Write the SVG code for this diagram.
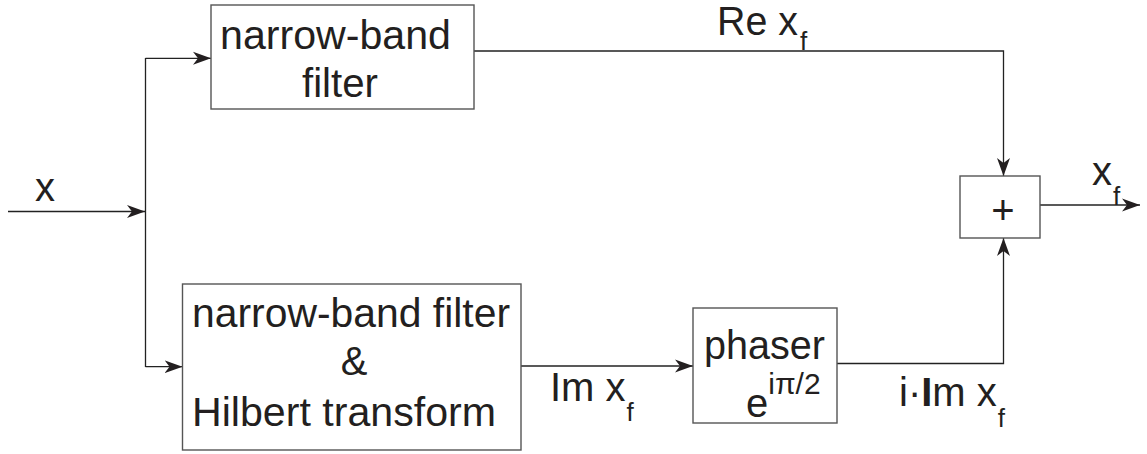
<svg xmlns="http://www.w3.org/2000/svg" width="1147" height="454" viewBox="0 0 1147 454">
<style>
.box{fill:#fff;stroke:#555;stroke-width:1.4}
.ln{fill:none;stroke:#222;stroke-width:1.3}
text{font-family:"Liberation Sans",Arial,sans-serif;fill:#231f20;font-size:40px}
.sub{font-size:26px}
.sup{font-size:30px}
</style>
<defs>
<marker id="ah" markerUnits="userSpaceOnUse" markerWidth="20" markerHeight="14" refX="18" refY="7" orient="auto">
<path d="M0,0.5 L18,7 L0,13.5 L5,7 Z" fill="#231f20"/>
</marker>
</defs>
<g id="connectors">
<path class="ln" d="M8,211.5 H145" marker-end="url(#ah)"/>
<path class="ln" d="M145.5,367 V58"/>
<path class="ln" d="M145.5,58.3 H211" marker-end="url(#ah)"/>
<path class="ln" d="M145.5,366.7 H182.5" marker-end="url(#ah)"/>
<path class="ln" d="M474,51 H1003.5 V176" marker-end="url(#ah)"/>
<path class="ln" d="M521,366 H693" marker-end="url(#ah)"/>
<path class="ln" d="M837,363.5 H1003.5 V238" marker-end="url(#ah)"/>
<path class="ln" d="M1040,205 H1140" marker-end="url(#ah)"/>
</g>
<g id="label-x"><text x="35" y="201">x</text></g>
<g id="node-nbf">
<rect class="box" x="211" y="5" width="263" height="104"/>
<text x="220" y="49" textLength="231" lengthAdjust="spacingAndGlyphs">narrow-band</text>
<text x="302" y="97" textLength="76" lengthAdjust="spacingAndGlyphs">filter</text>
</g>
<g id="label-re">
<text x="717" y="35" font-size="35" textLength="81" lengthAdjust="spacingAndGlyphs">Re x</text>
<text class="sub" x="800" y="50">f</text>
</g>
<g id="node-hilbert">
<rect class="box" x="182.5" y="284" width="338.5" height="166"/>
<text x="192" y="327" textLength="318" lengthAdjust="spacingAndGlyphs">narrow-band filter</text>
<text x="354" y="375" text-anchor="middle">&amp;</text>
<text x="192" y="426" textLength="304" lengthAdjust="spacingAndGlyphs">Hilbert transform</text>
</g>
<g id="label-im"><text x="550" y="401">Im x<tspan class="sub" dx="1" dy="20">f</tspan></text></g>
<g id="node-phaser">
<rect class="box" x="693" y="308" width="144" height="115"/>
<text x="704" y="359" textLength="121" lengthAdjust="spacingAndGlyphs">phaser</text>
<text x="746" y="417">e<tspan class="sup" dy="-23">iπ/2</tspan></text>
</g>
<g id="node-sum">
<rect class="box" x="960" y="176" width="80" height="62"/>
<text x="1003" y="224" text-anchor="middle">+</text>
</g>
<g id="label-xf"><text x="1092" y="185">x<tspan class="sub" dx="1" dy="20">f</tspan></text></g>
<g id="label-iim"><text x="899" y="406">i·<tspan font-weight="bold">I</tspan>m x<tspan class="sub" dx="1" dy="21">f</tspan></text></g>
</svg>
